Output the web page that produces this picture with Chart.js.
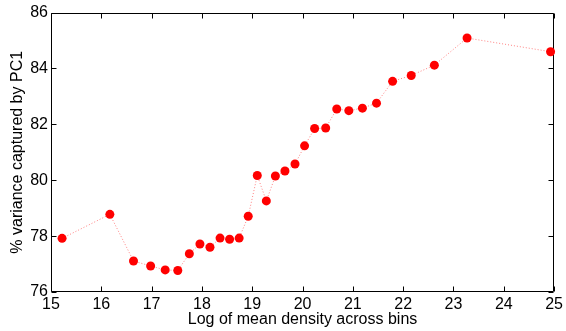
<!DOCTYPE html>
<html>
<head>
<meta charset="utf-8">
<script src="https://cdn.jsdelivr.net/npm/chart.js@4"></script>
<style>
html,body{margin:0;padding:0;background:#fff;}
canvas{display:block;}
</style>
</head>
<body>
<canvas id="c" width="566" height="331"></canvas>
<script>
const xValues = [15.22,16.17,16.64,16.98,17.27,17.52,17.75,17.96,18.16,18.36,18.55,18.74,18.92,19.10,19.28,19.46,19.65,19.85,20.04,20.24,20.46,20.68,20.92,21.19,21.47,21.79,22.16,22.62,23.27,24.93];
const yValues = [77.92,78.78,77.11,76.93,76.79,76.77,77.37,77.72,77.60,77.93,77.89,77.93,78.71,80.17,79.26,80.15,80.33,80.58,81.23,81.85,81.87,82.55,82.49,82.58,82.76,83.54,83.75,84.12,85.09,84.60];
const xLabel = 'Log of mean density across bins';
const yLabel = '% variance captured by PC1';

const points = xValues.map((x, i) => ({x: x, y: yValues[i]}));
const FONT = '"Liberation Sans", Arial, sans-serif';

const boxPlugin = {
  id: 'matlabBox',
  beforeDatasetsDraw(chart) {
    const {ctx, chartArea: a, scales} = chart;
    const L = Math.round(a.left) + 0.5, R = Math.round(a.right) - 0.5;
    const T = Math.round(a.top) + 0.5, B = Math.round(a.bottom) - 0.5;
    ctx.save();
    ctx.strokeStyle = '#000';
    ctx.lineWidth = 1;
    ctx.beginPath();
    ctx.rect(L, T, R - L, B - T);
    const tl = 5;
    scales.x.ticks.forEach(t => {
      const px = Math.round(scales.x.getPixelForValue(t.value)) + 0.5;
      ctx.moveTo(px, B); ctx.lineTo(px, B - tl);
      ctx.moveTo(px, T); ctx.lineTo(px, T + tl);
    });
    scales.y.ticks.forEach(t => {
      const py = Math.round(scales.y.getPixelForValue(t.value)) + 0.5;
      ctx.moveTo(L, py); ctx.lineTo(L + tl, py);
      ctx.moveTo(R, py); ctx.lineTo(R - tl, py);
    });
    ctx.stroke();
    ctx.restore();
  }
};

new Chart(document.getElementById('c'), {
  type: 'scatter',
  data: {
    datasets: [{
      data: points,
      showLine: true,
      borderColor: 'rgba(255,90,90,0.75)',
      borderWidth: 1,
      borderDash: [1, 2],
      pointRadius: 4.5,
      pointBackgroundColor: '#ff0000',
      pointBorderWidth: 0,
      pointBorderColor: '#ff0000',
      clip: false
    }]
  },
  options: {
    responsive: false,
    animation: false,
    layout: {padding: {top: 10, right: 9, left: 0, bottom: 0}},
    plugins: {legend: {display: false}, tooltip: {enabled: false}},
    scales: {
      x: {
        type: 'linear', min: 15, max: 25,
        afterFit(s) { s.height = 39; },
        grid: {display: false, drawTicks: false},
        border: {display: false},
        ticks: {stepSize: 1, padding: 3, color: '#000', font: {family: FONT, size: 16}, maxRotation: 0},
        title: {display: true, text: xLabel, color: '#000', font: {family: FONT, size: 16}, padding: {top: 0, bottom: 2}}
      },
      y: {
        type: 'linear', min: 76, max: 86,
        afterFit(s) { s.width = 51; },
        grid: {display: false, drawTicks: false},
        border: {display: false},
        ticks: {stepSize: 2, padding: 3, color: '#000', font: {family: FONT, size: 16}},
        title: {display: true, text: yLabel, color: '#000', font: {family: FONT, size: 16}, padding: {top: 8, bottom: 0}}
      }
    }
  },
  plugins: [boxPlugin]
});
</script>
</body>
</html>
